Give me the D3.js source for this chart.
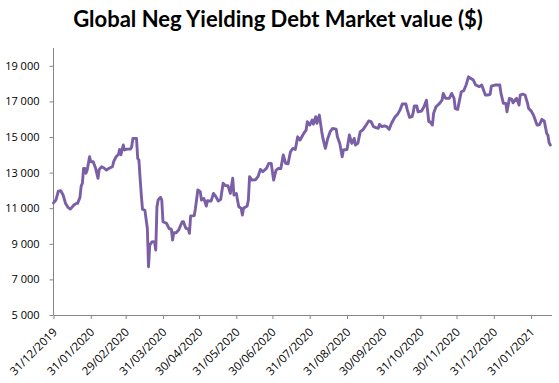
<!DOCTYPE html>
<html><head><meta charset="utf-8">
<script src="https://cdn.jsdelivr.net/npm/d3@7"></script>
<style>body{margin:0;background:#fff}svg{display:block}</style>
</head><body>
<svg id="chart" width="559" height="383"></svg>
<script>
const title = "Global Neg Yielding Debt Market value ($)";
const startDate = "2019-12-31";
const endDate = "2021-02-17";
// days elapsed since 31/12/2019 for each observation
const dayOffsets = [0,2,4,6,8,10,12,14,17,19,20,22,23,24,25,26,27,28,30,31,33,35,37,38,40,42,44,46,49,50,52,54,55,56,58,59,61,64,65,66,69,70,71,72,73,74,76,78,79,80,82,84,85,86,87,89,90,91,94,96,98,99,100,102,104,107,108,110,112,113,114,117,118,120,122,123,125,127,128,131,133,135,137,139,141,143,145,147,149,150,152,154,156,157,158,161,162,163,165,168,170,172,174,177,179,181,183,185,187,189,191,193,195,197,199,201,203,205,208,210,211,213,215,216,218,219,221,223,224,226,228,230,232,235,236,238,240,241,244,246,248,250,251,253,255,257,259,262,264,266,268,270,271,273,275,277,279,281,284,286,288,290,293,294,296,298,299,300,302,303,306,308,310,312,313,315,316,318,321,323,324,326,329,331,333,334,336,337,339,341,343,345,347,349,351,354,356,359,361,363,364,367,371,372,374,376,377,379,381,382,384,385,387,388,390,392,394,395,397,399,401,402,404,406,408,410,411,412,413];
const marketValue = [11300,11460,11960,11980,11740,11270,11050,10950,11180,11270,11270,11610,12240,12400,13240,13240,12960,13140,13890,13610,13610,13240,12680,13180,13330,13260,13140,13240,13330,13610,13890,14020,14300,14000,14550,14270,14320,14320,14450,14920,14920,13800,13700,12680,11740,10940,10880,9870,7710,8930,9120,9100,8650,11080,11460,11610,11460,10240,10150,9870,9810,9210,9620,9620,9770,10240,10240,9870,9840,9590,10560,10580,11000,12020,11930,11460,11550,11120,11420,11400,11830,11650,11400,11500,12400,12270,12270,11830,12680,11740,11830,11080,11000,10620,11000,11120,11460,12770,12580,12600,12770,13180,13050,13240,13520,13520,12580,13140,13230,13230,13990,13520,13500,14170,14360,14300,15010,14830,15200,15390,15860,15670,15950,15720,16140,15770,16230,15300,14920,14360,14920,15300,15480,15440,15010,14640,13890,14270,14300,15110,14640,14920,14550,14640,15300,15390,15580,15900,15860,15580,15530,15490,15710,15580,15620,15580,15430,15770,16140,16270,16510,16850,16850,16550,16100,16140,16360,16750,16750,16420,16460,16700,17070,15860,15860,15670,16330,16700,16890,17070,17450,17170,17170,17450,17170,16600,16550,16890,17540,17600,17920,18380,18290,18200,17920,17830,17920,17360,17360,17400,17860,17920,17920,17450,16890,16890,16420,17170,17110,16920,17110,17170,16790,17360,17410,17360,16920,16600,16470,16230,15860,15670,15690,15990,15900,15200,15110,14680,14550];
const xTickLabels = ["31/12/2019","31/01/2020","29/02/2020","31/03/2020","30/04/2020","31/05/2020","30/06/2020","31/07/2020","31/08/2020","30/09/2020","31/10/2020","30/11/2020","31/12/2020","31/01/2021"];
const yTicks = [5000,7000,9000,11000,13000,15000,17000,19000];
const yDomain = [5000,20000];

const parseISO = d3.timeParse("%Y-%m-%d");
const parseLbl = d3.timeParse("%d/%m/%Y");
const t0 = parseISO(startDate);
const data = dayOffsets.map((d,i)=>({date: d3.timeDay.offset(t0, d), value: marketValue[i]}));

const W = 559, H = 383;
const m = {left: 53.5, right: 7.5, top: 48, bottom: 68};
const svg = d3.select("#chart");
const x = d3.scaleTime().domain([t0, parseISO(endDate)]).range([m.left, W - m.right]);
const y = d3.scaleLinear().domain(yDomain).range([H - m.bottom, m.top]);

const axisColor = "#868686";
const font = "'Open Sans', sans-serif";
const fmt = v => d3.format(",")(v).replace(/,/g, " ");

// Y axis
const gy = svg.append("g").attr("transform", `translate(${m.left},0)`)
  .call(d3.axisLeft(y).tickValues(yTicks).tickFormat(fmt).tickSize(4).tickPadding(10).tickSizeOuter(0));
gy.select(".domain").attr("stroke", axisColor).attr("d", `M0,${y(yDomain[0])}V${m.top}`);
gy.selectAll(".tick line").attr("stroke", axisColor);
gy.selectAll(".tick text").attr("font-family", font).attr("font-size", 11).attr("fill", "#000");

// X axis
const gx = svg.append("g").attr("transform", `translate(0,${H - m.bottom})`)
  .call(d3.axisBottom(x).tickValues(xTickLabels.map(parseLbl)).tickFormat(d3.timeFormat("%d/%m/%Y")).tickSize(4).tickSizeOuter(0));
gx.select(".domain").attr("stroke", axisColor);
gx.selectAll(".tick line").attr("stroke", axisColor);
gx.selectAll(".tick text")
  .attr("font-family", font).attr("font-size", 11.5).attr("fill", "#000")
  .attr("text-anchor", "end")
  .attr("transform", "translate(1,15) rotate(-45)")
  .attr("x", 0).attr("y", 0).attr("dy", "0.35em");

// Line
const line = d3.line().x(d => x(d.date)).y(d => y(d.value));
svg.append("path").datum(data)
  .attr("d", line).attr("fill", "none")
  .attr("stroke", "#7A5FA6").attr("stroke-width", 2.9)
  .attr("stroke-linejoin", "round").attr("stroke-linecap", "round");

// Title
const tt = svg.append("text").text(title)
  .attr("x", 278).attr("y", 27).attr("text-anchor", "middle")
  .attr("font-family", "Lato, 'Open Sans', sans-serif").attr("font-weight", "bold")
  .attr("font-size", 20).attr("fill", "#000");
const w = tt.node().getComputedTextLength();
tt.attr("font-size", 20 * 410 / w);
</script>
</body></html>
